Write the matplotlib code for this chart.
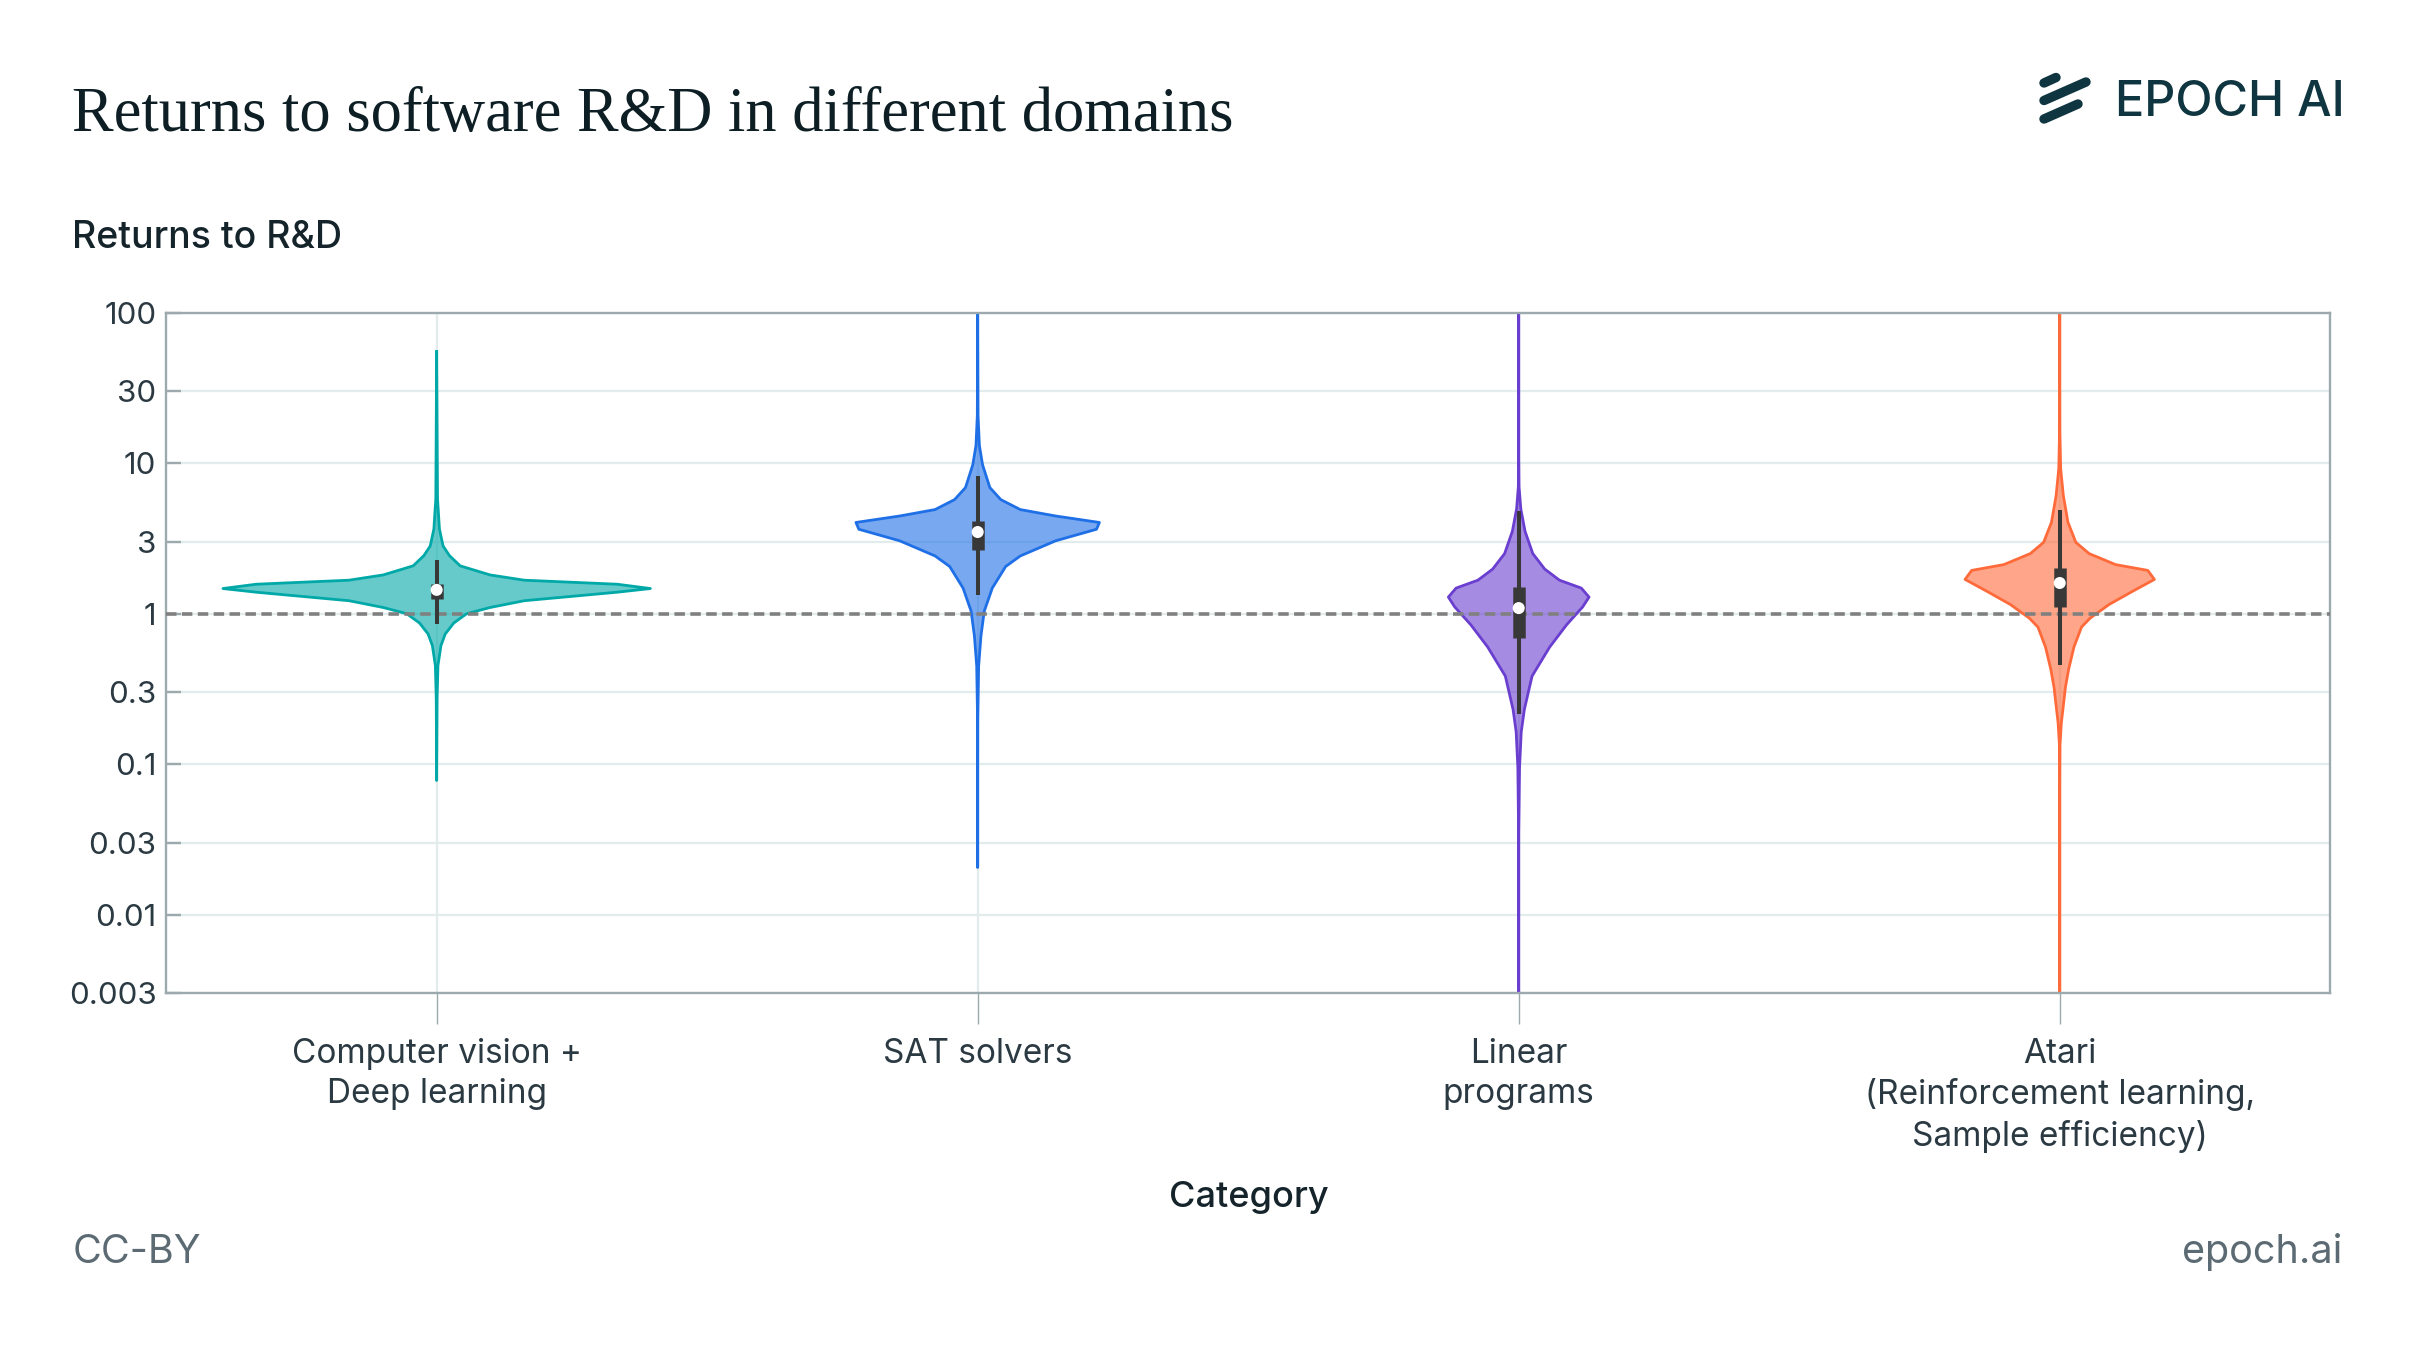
import matplotlib
matplotlib.use("Agg")
import matplotlib.pyplot as plt
from matplotlib.lines import Line2D
import numpy as np

plt.rcParams["font.family"] = ["Inter", "DejaVu Sans"]

categories = ["Computer vision +\nDeep learning", "SAT solvers", "Linear\nprograms",
              "Atari\n(Reinforcement learning,\nSample efficiency)"]
edge_colors = ["#00a8a8", "#1f6fe6", "#6a3fd0", "#ff6a3a"]

# violin outlines: returns value and relative half width
cv_y = [55, 5.8, 3.65, 2.82, 2.43, 2.08, 1.81, 1.67, 1.57, 1.47, 1.39, 1.22, 1.10, 1.0,
        0.867, 0.733, 0.614, 0.452, 0.272, 0.078]
cv_w = [0, 0.004, 0.013, 0.03, 0.06, 0.11, 0.25, 0.41, 0.845, 1.0, 0.845, 0.41, 0.25, 0.14,
        0.08, 0.04, 0.02, 0.006, 0.002, 0]
sat_y = [100, 20.8, 13.1, 9.77, 6.89, 5.73, 4.92, 4.46, 4.04, 3.64, 3.05, 2.42, 2.06, 1.48,
         1.04, 0.714, 0.449, 0.199, 0.0206]
sat_w = [0, 0.003, 0.014, 0.04, 0.10, 0.19, 0.35, 0.64, 1.0, 0.976, 0.64, 0.35, 0.23, 0.12,
         0.054, 0.027, 0.008, 0.001, 0]
lp_y = [100, 11.3, 6.98, 4.97, 3.53, 2.51, 1.98, 1.67, 1.48, 1.29, 1.11, 0.843, 0.6, 0.385,
        0.231, 0.164, 0.095, 0.034, 0.003]
lp_w = [0, 0.001, 0.005, 0.03, 0.09, 0.2, 0.37, 0.58, 0.89, 1.0, 0.91, 0.68, 0.44, 0.19,
        0.08, 0.036, 0.012, 0.001, 0]
atari_y = [100, 15.8, 9.18, 6.1, 4.05, 2.98, 2.51, 2.12, 1.94, 1.69, 1.41, 1.15, 0.933, 0.815,
           0.6, 0.427, 0.324, 0.188, 0.134, 0.0676, 0.003]
atari_w = [0, 0.002, 0.01, 0.038, 0.087, 0.17, 0.31, 0.59, 0.93, 1.0, 0.77, 0.52, 0.32, 0.23,
           0.15, 0.094, 0.06, 0.017, 0.003, 0.001, 0]
peak_width = [0.395, 0.225, 0.13, 0.175]

# box stats
whisk_lo = [0.853, 1.34, 0.215, 0.456]
q1 = [1.25, 2.64, 0.687, 1.11]
median = [1.44, 3.49, 1.09, 1.6]
q3 = [1.57, 4.13, 1.51, 2.0]
whisk_hi = [2.28, 8.2, 4.8, 4.9]

yticks = [0.003, 0.01, 0.03, 0.1, 0.3, 1, 3, 10, 30, 100]
ytick_labels = ["0.003", "0.01", "0.03", "0.1", "0.3", "1", "3", "10", "30", "100"]

fig = plt.figure(figsize=(24.15, 13.59), dpi=100)
ax = fig.add_axes([0.0688, 0.269, 0.8961, 0.5009])

profiles = [(cv_y, cv_w), (sat_y, sat_w), (lp_y, lp_w), (atari_y, atari_w)]
for i, (ys, ws) in enumerate(profiles):
    y = np.array(ys)
    w = np.array(ws) * peak_width[i]
    ax.fill_betweenx(y, i - w, i + w, facecolor=edge_colors[i], alpha=0.6, lw=0, zorder=2)
    ax.plot(np.concatenate([i - w, (i + w)[::-1]]), np.concatenate([y, y[::-1]]),
            color=edge_colors[i], lw=2.0, zorder=2.5, solid_joinstyle="round")
    ax.vlines(i, whisk_lo[i], whisk_hi[i], color="#383838", lw=2.9, zorder=4)
    ax.vlines(i, q1[i], q3[i], color="#383838", lw=9, zorder=4)
    ax.scatter([i], [median[i]], s=75, color="white", edgecolors="none", zorder=5)

ax.axhline(1, color="#808080", lw=2.6, dashes=(2.9, 1.5), zorder=3)

ax.set_yscale("log")
ax.set_ylim(0.003, 100)
ax.set_xlim(-0.5, 3.5)
ax.set_yticks(yticks)
ax.set_yticklabels(ytick_labels)
ax.minorticks_off()
ax.set_xticks(range(4))
ax.set_xticklabels(categories, linespacing=1.32)

ax.grid(True, color="#e2ecec", lw=1.6)
ax.set_axisbelow(True)
for s in ax.spines.values():
    s.set_color("#9caaae")
    s.set_linewidth(1.7)

ax.tick_params(axis="y", direction="in", length=11, width=1.7, color="#9caaae",
               labelsize=22.5, labelcolor="#2b3a42", pad=7)
ax.tick_params(axis="x", direction="out", length=22, width=1.0, color="#9caaae",
               labelsize=24, labelcolor="#2b3a42", pad=10)

fig.text(0.030, 0.9036, "Returns to software R&D in different domains", family="Liberation Serif",
         fontsize=45, color="#0d1f24", va="baseline")
fig.text(0.030, 0.8175, "Returns to R&D", fontsize=27, fontweight="medium", color="#14242a",
         va="baseline")
fig.text(0.5170, 0.119, "Category", fontsize=26, fontweight="medium", color="#14242a",
         ha="center", va="center")
fig.text(0.030, 0.0787, "CC-BY", fontsize=28.5, color="#5c6b73", va="center")
fig.text(0.970, 0.0787, "epoch.ai", fontsize=28.5, color="#5c6b73", va="center", ha="right")

# logo
fig.text(0.8758, 0.9146, "EPOCH AI", fontsize=35, fontweight="medium", color="#0f3540",
         va="baseline")
W, H = 2415, 1359
for (x0, y0, x1, y1) in [(2044, 83, 2056, 77.5), (2044, 100.5, 2086, 82), (2044, 119, 2078, 104)]:
    fig.add_artist(Line2D([x0 / W, x1 / W], [1 - y0 / H, 1 - y1 / H], color="#0f3540",
                          lw=6.8, solid_capstyle="round"))

fig.savefig("out.png", dpi=100, facecolor="white")
